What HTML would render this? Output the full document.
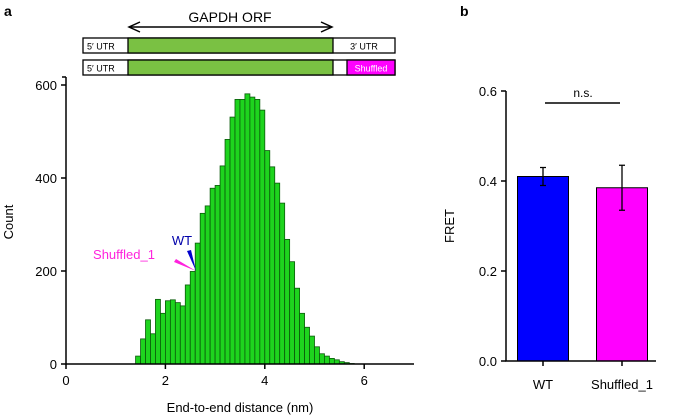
<!DOCTYPE html>
<html><head><meta charset="utf-8"><style>
body{margin:0;background:#fff}
svg{display:block;font-family:"Liberation Sans",Arial,sans-serif}
</style></head><body>
<svg width="675" height="418" viewBox="0 0 675 418">
<g id="diagram">
<text x="230" y="22" font-size="14" text-anchor="middle">GAPDH ORF</text>
<line x1="130" y1="27" x2="331" y2="27" stroke="#000" stroke-width="1.5"/>
<path d="M140,22 L129,27 L140,32 M321,22 L332,27 L321,32" fill="none" stroke="#000" stroke-width="1.5"/>
<g>
<rect x="83" y="38" width="312" height="15" fill="#fff" stroke="#000" stroke-width="1.3"/>
<rect x="128" y="38" width="205" height="15" fill="#7ac143" stroke="#000" stroke-width="1.3"/>
<text x="87" y="49.5" font-size="9">5′ UTR</text>
<text x="364" y="49.5" font-size="9" text-anchor="middle">3′ UTR</text>
</g>
<g>
<rect x="83" y="60" width="312" height="15" fill="#fff" stroke="#000" stroke-width="1.3"/>
<rect x="128" y="60" width="205" height="15" fill="#7ac143" stroke="#000" stroke-width="1.3"/>
<rect x="347" y="60" width="48" height="15" fill="#ff00ff" stroke="#000" stroke-width="1.3"/>
<text x="87" y="71.5" font-size="9">5′ UTR</text>
<text x="371" y="71.5" font-size="9" fill="#fff" text-anchor="middle">Shuffled</text>
</g>
</g>
<text x="4" y="16" font-size="14" font-weight="bold">a</text>
<text x="460" y="16" font-size="14" font-weight="bold">b</text>
<g id="histA"></g>
<g id="barB"></g>
</svg>
<script>
const binStart = 1.4;
const binWidth = 0.1;
const counts = [17,54,95,65,139,109,136,138,132,125,170,199,260,324,340,378,384,426,483,531,569,569,581,574,569,546,459,424,389,346,268,220,163,109,79,60,37,22,17,12,9,5,3,1];
const xTicksA = [0,2,4,6];
const yTicksA = [0,200,400,600];
const barCats = ["WT","Shuffled_1"];
const barVals = [0.41,0.385];
const barErrLo = [0.39,0.335];
const barErrHi = [0.43,0.435];
const barColors = ["#0000ff","#ff00ff"];
const yTicksB = [0.0,0.2,0.4,0.6];
const yTickLabelsB = ["0.0","0.2","0.4","0.6"];

const NS="http://www.w3.org/2000/svg";
function mk(p,t,a,txt){const e=document.createElementNS(NS,t);for(const k in a)e.setAttribute(k,a[k]);if(txt!==undefined)e.textContent=txt;p.appendChild(e);return e;}

// Panel A
const A=document.getElementById('histA');
const xA=v=>66+v*49.7, yA=v=>364-v*0.465;
counts.forEach((c,i)=>{
  const x0=xA(binStart+i*binWidth), x1=xA(binStart+(i+1)*binWidth);
  const r=mk(A,'rect',{x:x0,y:yA(c),width:x1-x0,height:364-yA(c),fill:'#1ed41e',stroke:'#0a5a0a','stroke-width':0.8});
  
  
});
const ax=mk(A,'path',{d:`M66,77 L66,364 L414,364`,fill:'none',stroke:'#000','stroke-width':1.5});


mk(A,'line',{x1:62,y1:77,x2:66,y2:77,stroke:'#000','stroke-width':1.5});
xTicksA.forEach(t=>{
  mk(A,'line',{x1:xA(t),y1:364,x2:xA(t),y2:369,stroke:'#000','stroke-width':1.5});
  const l=mk(A,'text',{x:xA(t),y:385,'font-size':13,'text-anchor':'middle'},String(t));
  
  
});
yTicksA.forEach(t=>{
  mk(A,'line',{x1:61,y1:yA(t),x2:66,y2:yA(t),stroke:'#000','stroke-width':1.5});
  const l=mk(A,'text',{x:57,y:yA(t)+5,'font-size':13,'text-anchor':'end'},String(t));
  
  
});
const xt=mk(A,'text',{x:240,y:412,'font-size':13,'text-anchor':'middle'},'End-to-end distance (nm)');


const yt=mk(A,'text',{x:0,y:0,'font-size':13,'text-anchor':'middle',transform:'translate(13,222) rotate(-90)'},'Count');


// markers
mk(A,'path',{d:'M196,271 L187,251 L191,250 Z',fill:'#0000cc'});
mk(A,'path',{d:'M196,271 L174,262 L176,259 Z',fill:'#ff22dd'});
const wt=mk(A,'text',{x:182,y:245,'font-size':13,fill:'#0000aa','text-anchor':'middle'},'WT');


const sh=mk(A,'text',{x:124,y:259,'font-size':13,fill:'#ff22dd','text-anchor':'middle'},'Shuffled_1');



// Panel B
const B=document.getElementById('barB');
const yB=v=>361-v*450;
const xC=[543,622];
barCats.forEach((c,i)=>{
  const r=mk(B,'rect',{x:xC[i]-25.5,y:yB(barVals[i]),width:51,height:361-yB(barVals[i]),fill:barColors[i],stroke:'#000','stroke-width':1});
  
  
  const e=mk(B,'path',{d:`M${xC[i]},${yB(barErrLo[i])} L${xC[i]},${yB(barErrHi[i])} M${xC[i]-3},${yB(barErrLo[i])} L${xC[i]+3},${yB(barErrLo[i])} M${xC[i]-3},${yB(barErrHi[i])} L${xC[i]+3},${yB(barErrHi[i])}`,fill:'none',stroke:'#000','stroke-width':1.3});
  
  
  mk(B,'line',{x1:xC[i],y1:361,x2:xC[i],y2:366,stroke:'#000','stroke-width':1.5});
  const l=mk(B,'text',{x:xC[i],y:389,'font-size':13,'text-anchor':'middle'},c);
  
  
});
const axb=mk(B,'path',{d:'M506,91 L506,361 L656,361',fill:'none',stroke:'#000','stroke-width':1.5});


yTicksB.forEach((t,i)=>{
  mk(B,'line',{x1:501,y1:yB(t),x2:506,y2:yB(t),stroke:'#000','stroke-width':1.5});
  const l=mk(B,'text',{x:497,y:yB(t)+5,'font-size':13,'text-anchor':'end'},yTickLabelsB[i]);
  
  
});
const ft=mk(B,'text',{x:0,y:0,'font-size':13,'text-anchor':'middle',transform:'translate(454,226) rotate(-90)'},'FRET');


mk(B,'line',{x1:545,y1:103,x2:620,y2:103,stroke:'#000','stroke-width':1.5});
const ns=mk(B,'text',{x:583,y:97,'font-size':12,'text-anchor':'middle'},'n.s.');


</script>
</body></html>
